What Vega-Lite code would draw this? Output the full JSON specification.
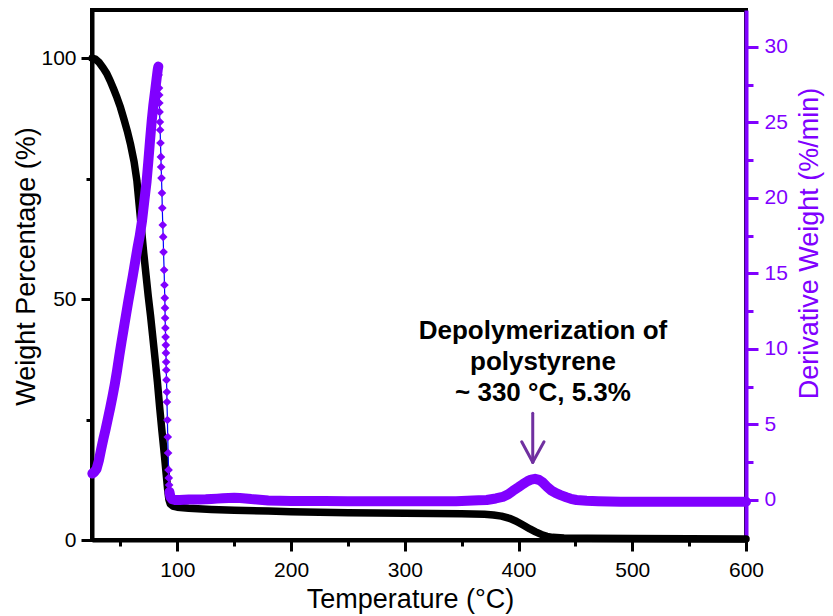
{
  "$schema": "https://vega.github.io/schema/vega-lite/v6.json",
  "width": 654,
  "height": 530,
  "autosize": {"type": "none"},
  "padding": {"left": 92, "top": 10, "right": 87, "bottom": 76},
  "background": "white",
  "config": {
    "view": {"stroke": "black", "strokeWidth": 4},
    "axis": {"grid": false, "labelFont": "Liberation Sans", "titleFont": "Liberation Sans", "labelFlush": false, "labelOverlap": false, "titleFontWeight": "normal"}
  },
  "datasets": {
    "tga": [
      {"T": 25, "W": 100.0}, {"T": 28, "W": 99.8}, {"T": 31, "W": 99.2}, {"T": 35, "W": 97.9},
      {"T": 38, "W": 96.8}, {"T": 41, "W": 95.3}, {"T": 44, "W": 93.6}, {"T": 47, "W": 91.8},
      {"T": 50, "W": 89.8}, {"T": 53, "W": 87.4}, {"T": 56, "W": 84.9}, {"T": 59, "W": 82.0},
      {"T": 62, "W": 78.5}, {"T": 64.5, "W": 74.5}, {"T": 66.5, "W": 69.5}, {"T": 68.5, "W": 64.5},
      {"T": 70.5, "W": 59.5}, {"T": 72.5, "W": 55.0}, {"T": 74.5, "W": 50.5}, {"T": 76.5, "W": 46.5},
      {"T": 78.5, "W": 42.0}, {"T": 80.5, "W": 37.5}, {"T": 82.5, "W": 32.8}, {"T": 84.5, "W": 27.5},
      {"T": 86.5, "W": 22.6}, {"T": 88.5, "W": 18.0}, {"T": 90.3, "W": 13.5}, {"T": 91.6, "W": 10.3},
      {"T": 92.6, "W": 8.4}, {"T": 93.8, "W": 7.5}, {"T": 96, "W": 7.05}, {"T": 100, "W": 6.8},
      {"T": 110, "W": 6.6}, {"T": 130, "W": 6.35}, {"T": 150, "W": 6.2}, {"T": 180, "W": 6.0},
      {"T": 200, "W": 5.85}, {"T": 250, "W": 5.65}, {"T": 300, "W": 5.55}, {"T": 350, "W": 5.45},
      {"T": 370, "W": 5.35}, {"T": 378, "W": 5.2}, {"T": 385, "W": 4.95}, {"T": 392, "W": 4.5},
      {"T": 398, "W": 3.9}, {"T": 404, "W": 3.1}, {"T": 410, "W": 2.3}, {"T": 415, "W": 1.7},
      {"T": 420, "W": 1.15}, {"T": 425, "W": 0.75}, {"T": 430, "W": 0.55}, {"T": 440, "W": 0.42},
      {"T": 460, "W": 0.35}, {"T": 500, "W": 0.3}, {"T": 550, "W": 0.25}, {"T": 600, "W": 0.2}
    ],
    "dtg": [
      {"T": 25.3, "D": 1.75}, {"T": 27.0, "D": 1.85}, {"T": 29.0, "D": 2.05}, {"T": 31.0, "D": 2.6},
      {"T": 33.0, "D": 3.35}, {"T": 35.0, "D": 4.05}, {"T": 37.0, "D": 4.7}, {"T": 39.0, "D": 5.4},
      {"T": 41.0, "D": 6.1}, {"T": 43.0, "D": 6.85}, {"T": 45.0, "D": 7.65}, {"T": 47.0, "D": 8.55},
      {"T": 49.0, "D": 9.55}, {"T": 51.0, "D": 10.5}, {"T": 53.0, "D": 11.4}, {"T": 55.0, "D": 12.3},
      {"T": 57.0, "D": 13.2}, {"T": 59.0, "D": 14.05}, {"T": 61.0, "D": 14.9}, {"T": 63.0, "D": 15.8},
      {"T": 65.0, "D": 16.7}, {"T": 67.0, "D": 17.5}, {"T": 69.0, "D": 18.5}, {"T": 71.0, "D": 19.8},
      {"T": 73.0, "D": 21.1}, {"T": 74.5, "D": 22.4}, {"T": 76.0, "D": 23.8}, {"T": 77.5, "D": 25.1},
      {"T": 79.0, "D": 26.2}, {"T": 80.5, "D": 27.1}, {"T": 81.8, "D": 27.9}, {"T": 82.8, "D": 28.5},
      {"T": 83.3, "D": 28.7},
      {"T": 83.55, "D": 28.15}, {"T": 83.9, "D": 27.28}, {"T": 84.1, "D": 26.82}, {"T": 84.2, "D": 26.29},
      {"T": 84.4, "D": 25.7}, {"T": 84.7, "D": 25.03}, {"T": 84.9, "D": 24.5}, {"T": 85.2, "D": 23.64},
      {"T": 85.6, "D": 22.72}, {"T": 85.8, "D": 22.05}, {"T": 86.1, "D": 21.32}, {"T": 86.5, "D": 20.33},
      {"T": 86.8, "D": 19.34}, {"T": 87.2, "D": 18.21}, {"T": 87.6, "D": 17.42}, {"T": 87.9, "D": 16.42},
      {"T": 88.4, "D": 15.23}, {"T": 88.7, "D": 14.24}, {"T": 89.0, "D": 13.38}, {"T": 89.2, "D": 12.72},
      {"T": 89.3, "D": 12.05}, {"T": 89.5, "D": 11.39}, {"T": 89.7, "D": 10.79}, {"T": 89.9, "D": 10.26},
      {"T": 90.0, "D": 9.74}, {"T": 90.2, "D": 9.14}, {"T": 90.3, "D": 8.61}, {"T": 90.5, "D": 7.95},
      {"T": 90.8, "D": 7.15}, {"T": 90.9, "D": 6.49}, {"T": 91.3, "D": 5.3}, {"T": 91.6, "D": 4.17},
      {"T": 91.9, "D": 3.11}, {"T": 92.3, "D": 1.99}, {"T": 92.5, "D": 1.46}, {"T": 92.8, "D": 0.99},
      {"T": 93.1, "D": 0.53},
      {"T": 94.0, "D": 0.2}, {"T": 95.5, "D": 0.05}, {"T": 98, "D": 0.0}, {"T": 102, "D": 0.0},
      {"T": 106, "D": 0.02}, {"T": 110, "D": 0.03}, {"T": 115, "D": 0.03}, {"T": 120, "D": 0.04},
      {"T": 125, "D": 0.05}, {"T": 130, "D": 0.07}, {"T": 135, "D": 0.09}, {"T": 140, "D": 0.11},
      {"T": 145, "D": 0.13}, {"T": 150, "D": 0.14}, {"T": 155, "D": 0.13}, {"T": 160, "D": 0.1},
      {"T": 165, "D": 0.06}, {"T": 170, "D": 0.03}, {"T": 175, "D": 0.0}, {"T": 180, "D": -0.03},
      {"T": 190, "D": -0.05}, {"T": 200, "D": -0.06}, {"T": 215, "D": -0.07}, {"T": 230, "D": -0.07},
      {"T": 250, "D": -0.08}, {"T": 270, "D": -0.08}, {"T": 290, "D": -0.08}, {"T": 310, "D": -0.08},
      {"T": 330, "D": -0.08}, {"T": 345, "D": -0.08}, {"T": 355, "D": -0.05}, {"T": 365, "D": -0.02},
      {"T": 372, "D": 0.0}, {"T": 380, "D": 0.1}, {"T": 386, "D": 0.2}, {"T": 391, "D": 0.38},
      {"T": 395, "D": 0.6}, {"T": 400, "D": 0.85}, {"T": 404, "D": 1.06}, {"T": 408, "D": 1.25},
      {"T": 411, "D": 1.35}, {"T": 414.5, "D": 1.4}, {"T": 418, "D": 1.33}, {"T": 421, "D": 1.18},
      {"T": 425, "D": 0.88}, {"T": 429, "D": 0.62}, {"T": 433, "D": 0.45}, {"T": 437, "D": 0.32},
      {"T": 442, "D": 0.18}, {"T": 446, "D": 0.08}, {"T": 451, "D": 0.0}, {"T": 460, "D": -0.05},
      {"T": 470, "D": -0.08}, {"T": 490, "D": -0.11}, {"T": 520, "D": -0.12}, {"T": 550, "D": -0.12},
      {"T": 580, "D": -0.12}, {"T": 600, "D": -0.12}
    ],
    "arrow": [
      {"T": 412.5, "D": 5.74, "T2": 412.5, "D2": 2.5},
      {"T": 402.8, "D": 3.86, "T2": 412.5, "D2": 2.5},
      {"T": 422.4, "D": 3.86, "T2": 412.5, "D2": 2.5}
    ],
    "note": [
      {"T": 421.5, "D": 10.63, "label": "Depolymerization of\npolystyrene\n~ 330 °C, 5.3%"}
    ]
  },
  "encoding": {
    "x": {
      "field": "T", "type": "quantitative",
      "scale": {"domain": [25, 600], "nice": false, "zero": false},
      "axis": {
        "values": [50, 100, 150, 200, 250, 300, 350, 400, 450, 500, 550, 600],
        "labelExpr": "datum.value % 100 === 0 ? datum.label : ''",
        "tickSize": {"condition": {"test": "datum.value % 100 === 0", "value": 11}, "value": 6},
        "tickWidth": 3, "tickColor": "black",
        "domainColor": "black", "domainWidth": 4,
        "labelFontSize": 21, "labelColor": "black", "labelPadding": 8,
        "title": "Temperature (°C)", "titleFontSize": 27, "titleColor": "black", "titlePadding": 6, "titleX": 318
      }
    }
  },
  "layer": [
    {
      "data": {"name": "tga"},
      "mark": {"type": "line", "color": "black", "strokeWidth": 7.5, "strokeJoin": "round", "strokeCap": "round"},
      "encoding": {
        "y": {
          "field": "W", "type": "quantitative",
          "scale": {"domain": [0, 110], "nice": false, "zero": false},
          "axis": {
            "orient": "left",
            "values": [0, 25, 50, 75, 100],
            "labelExpr": "datum.value % 50 === 0 ? datum.label : ''",
            "tickSize": {"condition": {"test": "datum.value % 50 === 0", "value": 11}, "value": 6},
            "tickWidth": 3, "tickColor": "black",
            "domainColor": "black", "domainWidth": 4,
            "labelFontSize": 21, "labelColor": "black", "labelPadding": 5,
            "title": "Weight Percentage (%)", "titleFontSize": 27, "titleColor": "black", "titlePadding": 0, "titleY": 256
          }
        }
      }
    },
    {
      "encoding": {
        "y": {
          "field": "D", "type": "quantitative",
          "scale": {"domain": [-2.65, 32.45], "nice": false, "zero": false},
          "axis": {
            "orient": "right",
            "values": [0, 2.5, 5, 7.5, 10, 12.5, 15, 17.5, 20, 22.5, 25, 27.5, 30],
            "labelExpr": "datum.value % 5 === 0 ? datum.label : ''",
            "tickSize": {"condition": {"test": "datum.value % 5 === 0", "value": 12}, "value": 7},
            "tickWidth": 3, "tickColor": "#8000ff",
            "domainColor": "#8000ff", "domainWidth": 4,
            "labelFontSize": 21, "labelColor": "#8000ff", "labelPadding": 6,
            "title": "Derivative Weight (%/min)", "titleFontSize": 27, "titleColor": "#8000ff",
            "titleAngle": 270, "titleBaseline": "top", "titlePadding": 9, "titleY": 233
          }
        }
      },
      "layer": [
        {
          "data": {"name": "dtg"},
          "mark": {"type": "line", "color": "#0000ff", "strokeWidth": 1.2}
        },
        {
          "data": {"name": "dtg"},
          "transform": [{"filter": "datum.T <= 83.3"}],
          "mark": {"type": "line", "color": "#8000ff", "strokeWidth": 10, "strokeJoin": "round", "strokeCap": "round"}
        },
        {
          "data": {"name": "dtg"},
          "transform": [{"filter": "datum.T >= 93.1"}],
          "mark": {"type": "line", "color": "#8000ff", "strokeWidth": 10, "strokeJoin": "round", "strokeCap": "round"}
        },
        {
          "data": {"name": "dtg"},
          "transform": [{"filter": "datum.T >= 83.3 && datum.T <= 93.1"}],
          "mark": {"type": "point", "shape": "diamond", "filled": true, "color": "#8000ff", "size": 75, "opacity": 1}
        },
        {
          "data": {"name": "arrow"},
          "mark": {"type": "rule", "color": "#7030a0", "strokeWidth": 3, "strokeCap": "round"},
          "encoding": {
            "x2": {"field": "T2"},
            "y2": {"field": "D2"}
          }
        },
        {
          "data": {"name": "note"},
          "mark": {"type": "text", "font": "Liberation Sans", "fontSize": 26, "fontWeight": "bold", "color": "black", "align": "center", "baseline": "alphabetic", "lineBreak": "\n", "lineHeight": 31},
          "encoding": {
            "text": {"field": "label", "type": "nominal"}
          }
        }
      ]
    }
  ],
  "resolve": {"scale": {"y": "independent"}}
}
